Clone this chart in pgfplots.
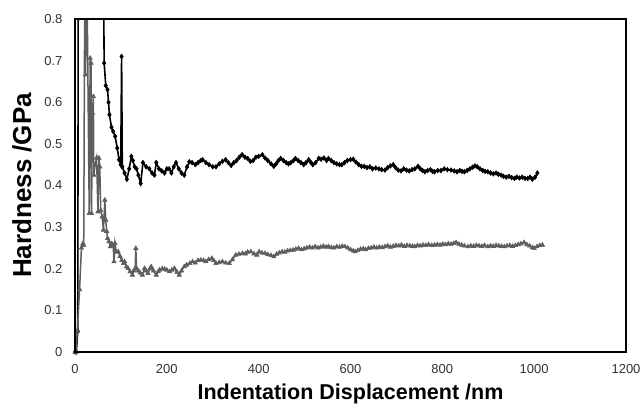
\documentclass[border=0pt]{standalone}
\usepackage{pgfplots}
\pgfplotsset{compat=1.18}
\usepackage{fontspec}
\setmainfont{Liberation Sans}
\definecolor{grayser}{HTML}{5E5E5E}
\begin{document}
\begin{tikzpicture}
\begin{axis}[
  scale only axis, width=551pt, height=333pt,
  xmin=0, xmax=1200, ymin=0, ymax=0.8,
  xtick={0,200,...,1200}, ytick={0,0.1,...,0.8},
  major tick length=0pt,
  /pgf/number format/assume math mode=true,
  ticklabel style={font=\fontsize{13}{15}\selectfont, text=black!80},
  yticklabel style={/pgf/number format/fixed, /pgf/number format/precision=1, xshift=-9pt},
  xticklabel style={/pgf/number format/1000 sep={}, yshift=-9pt},
  xlabel={Indentation Displacement /nm},
  ylabel={Hardness /GPa},
  x label style={font=\fontsize{21.5}{24}\selectfont\bfseries, at={([yshift=-42pt]axis description cs:0.5,0)}, anchor=center},
  y label style={font=\fontsize{26}{28}\selectfont\bfseries, at={([xshift=-53pt]axis description cs:0,0.5)}, anchor=center},
  clip=true,
]
\coordinate (ll) at (rel axis cs:0,0);
\coordinate (ur) at (rel axis cs:1,1);
% black series (diamonds)
\addplot[black, line width=1.6pt, mark=diamond*, mark size=2.3pt, mark options={solid, line width=0.6pt}] coordinates {
(0,0)(3,0)(6,0.05)(7.5,1.2)(30,1.5)(60,1.2)(63.5,0.694)(67,0.64)(70.8,0.63)(73,0.6)(75,0.57)(79.5,0.54)(83,0.53)(87.4,0.518)(92,0.49)(96,0.462)(99.6,0.45)(101.5,0.71)(103,0.445)(108,0.43)(113,0.415)(118,0.44)(122.7,0.47)(126,0.46)(130,0.445)(134,0.44)(138,0.425)(143,0.405)(148,0.455)
(155,0.445)(162,0.44)(168,0.43)(173,0.425)(177,0.455)(183,0.44)(189,0.435)(195,0.43)(200,0.44)(205,0.44)(210,0.43)(215,0.445)(220,0.455)(226,0.44)(232,0.43)(238,0.425)(244,0.445)(249,0.457)(255,0.455)(262,0.45)(268,0.455)(274,0.46)(278,0.462)(285,0.455)(292,0.45)(300,0.445)(307,0.445)(314,0.452)(321,0.458)(328,0.462)(334,0.455)(340,0.448)(346,0.455)(352,0.46)(358,0.468)(364,0.474)(370,0.468)(376,0.465)(382,0.458)(388,0.46)(394,0.468)(400,0.47)(408,0.474)(414,0.466)(420,0.46)(427,0.452)(433,0.446)(438,0.452)(443,0.46)(448,0.465)(454,0.46)(460,0.455)(465,0.452)(470,0.455)(476,0.46)(480,0.465)(486,0.46)(492,0.455)(498,0.45)(503,0.455)(509,0.462)(514,0.455)(518,0.45)(524,0.455)(531,0.465)(536,0.463)(542,0.466)(548,0.46)(552,0.465)(558,0.46)(564,0.455)(570,0.452)(576,0.45)(581,0.45)(587,0.455)(593,0.46)(600,0.462)(606,0.463)(612,0.456)(618,0.45)(624,0.446)(630,0.446)(636,0.443)(642,0.445)(648,0.44)(655,0.442)(662,0.44)(668,0.438)(675,0.437)(681,0.443)(687,0.447)(693,0.45)(698,0.443)(704,0.437)(710,0.435)(716,0.44)(722,0.437)(728,0.435)(734,0.438)(740,0.44)(747,0.446)(752,0.44)(757,0.436)(762,0.433)(768,0.436)(774,0.438)(779,0.434)(783,0.433)(790,0.436)(797,0.436)(804,0.44)(811,0.438)(819,0.437)(826,0.435)(832,0.433)(838,0.436)(843,0.434)(848,0.433)(854,0.436)(860,0.44)(866,0.444)(871,0.447)(876,0.445)(882,0.44)(888,0.436)(893,0.434)(899,0.433)(905,0.43)(911,0.428)(917,0.43)(922,0.427)(928,0.425)(933,0.422)(939,0.42)(945,0.422)(951,0.419)(957,0.417)(962,0.42)(968,0.418)(974,0.42)(980,0.417)(986,0.417)(991,0.42)(996,0.415)(1002,0.42)(1007,0.43)
};
% gray series (triangles)
\addplot[grayser, line width=1.5pt, mark=triangle*, mark size=2.5pt, mark options={solid, line width=0.6pt}] coordinates {
(0,0)(2,0)(5,0.05)(10,0.15)(14,0.25)(17,0.26)(19,0.257)(21.5,0.95)(22.8,0.666)(26,0.9)(31,0.333)(33,0.706)(35,0.694)(36,0.333)(38,0.574)(40,0.614)(41,0.425)(44,0.45)(47,0.466)(50,0.337)(52,0.466)(54,0.445)(56,0.34)(59,0.325)(62,0.293)(65,0.365)(67,0.317)(69,0.29)(71,0.273)(74,0.265)(77,0.253)(80,0.26)(83,0.257)(85,0.217)(87,0.261)(90,0.24)(94,0.241)(98,0.23)(102,0.22)(105.5,0.213)(108,0.217)(112,0.205)(115.5,0.201)(120,0.193)(125,0.185)(128,0.195)(131,0.2)(132.5,0.249)(134,0.201)(138,0.195)(142,0.19)(146.6,0.185)
(151.6,0.201)(155,0.195)(159,0.189)(163,0.2)(166,0.205)(171,0.195)(177,0.185)(181,0.193)(184,0.197)(190,0.2)(195,0.199)(200,0.197)(206,0.193)(211,0.197)(216.6,0.201)(222,0.192)(227,0.185)(232,0.195)(238,0.205)(243,0.209)(250,0.213)(256,0.217)(262,0.214)(268,0.22)(274,0.221)(280,0.22)(285,0.217)(291,0.222)(298,0.225)(302,0.22)(307,0.213)(314,0.215)(321,0.217)(328,0.214)(336,0.213)(343,0.222)(350,0.233)(357,0.235)(364.6,0.237)(371,0.236)(376,0.24)(383,0.241)(390,0.236)(396,0.233)(401,0.241)(407,0.238)(414,0.237)(420,0.234)(427,0.232)(433,0.229)(439,0.235)(445,0.238)(451,0.241)(457,0.24)(463,0.243)(469,0.244)(475,0.245)(481,0.247)(487,0.249)(493,0.246)(499,0.248)(505,0.25)(511,0.252)(517,0.25)(523,0.253)(529,0.25)(535,0.252)(541,0.254)(547,0.252)(552,0.253)(558,0.251)(564,0.25)(570,0.253)(576,0.252)(582,0.254)(588,0.253)(594,0.25)(600,0.246)(606,0.243)(610,0.241)(616,0.244)(622,0.247)(628,0.248)(633,0.246)(639,0.249)(645,0.25)(651,0.252)(657,0.25)(663,0.252)(669,0.251)(675,0.253)(681,0.255)(687,0.252)(693,0.254)(699,0.256)(705,0.255)(711,0.257)(717,0.254)(723,0.256)(729,0.255)(735,0.254)(740,0.253)(746,0.256)(752,0.255)(758,0.257)(764,0.256)(770,0.258)(777,0.256)(783,0.257)(789,0.258)(795,0.257)(801,0.259)(807,0.258)(813,0.26)(819,0.259)(825,0.261)(830,0.263)(836,0.259)(842,0.257)(848,0.255)(856,0.253)(862,0.255)(868,0.254)(874,0.256)(880,0.255)(886,0.254)(892,0.256)(899,0.253)(905,0.255)(911,0.254)(917,0.256)(923,0.255)(929,0.254)(935,0.253)(941,0.255)(947,0.256)(953,0.254)(959,0.256)(965,0.258)(971,0.26)(978,0.263)(984,0.258)(990,0.255)(996,0.251)(1000,0.249)(1006,0.253)(1012,0.256)(1018,0.257)
};
\end{axis}
\draw[line width=2.4pt, black] (ll) rectangle (ur);
\pgfresetboundingbox
\path ([shift={(-75pt,-60pt)}]ll) rectangle ([shift={(16pt,19pt)}]ur);
\end{tikzpicture}
\end{document}
